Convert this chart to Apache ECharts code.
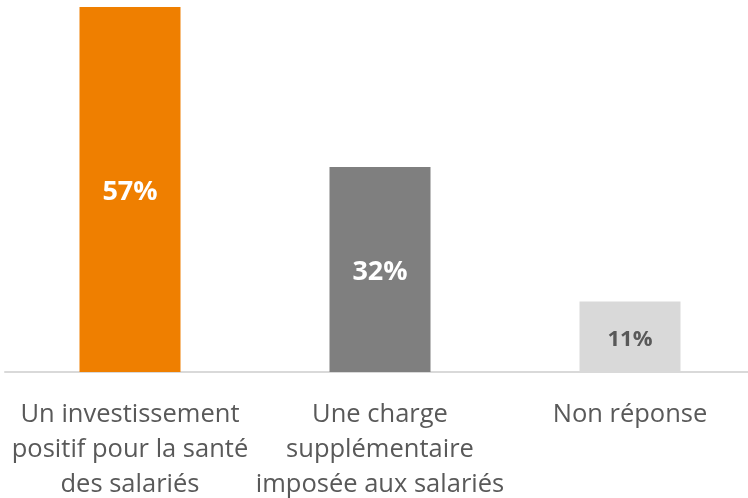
<!DOCTYPE html>
<html>
<head>
<meta charset="utf-8">
<script src="https://cdn.jsdelivr.net/npm/echarts@6/dist/echarts.min.js"></script>
<style>
  html, body { margin: 0; padding: 0; background: #fff; }
  #chart { width: 748px; height: 498px; }
</style>
</head>
<body>
<div id="chart"></div>
<script>
const categories = [
  'Un investissement\npositif pour la santé\ndes salariés',
  'Une charge\nsupplémentaire\nimposée aux salariés',
  'Non réponse'
];
const values = [57, 32, 11];
const barColors = ['#ef7f00', '#7f7f7f', '#d9d9d9'];
const labelColors = ['#ffffff', '#ffffff', '#595959'];
const labelSizes = [27, 27, 22];

const chart = echarts.init(document.getElementById('chart'));

const option = {
  backgroundColor: '#fff',
  animation: false,
  grid: {
    left: 5,
    width: 750,
    top: 7,
    bottom: 126,
    outerBoundsMode: 'none'
  },
  xAxis: {
    type: 'category',
    data: categories,
    axisLine: {
      lineStyle: { color: '#d9d9d9', width: 2 }
    },
    axisTick: { show: false },
    axisLabel: {
      color: '#595959',
      fontFamily: 'Open Sans',
      fontSize: 25.5,
      lineHeight: 35,
      margin: 25,
      interval: 0
    }
  },
  yAxis: {
    type: 'value',
    min: 0,
    max: 57,
    show: false
  },
  series: [
    {
      type: 'bar',
      barWidth: 101,
      data: values.map((v, i) => ({
        value: v,
        itemStyle: { color: barColors[i] },
        label: { color: labelColors[i], fontSize: labelSizes[i] }
      })),
      label: {
        show: true,
        position: 'inside',
        offset: [0, 3],
        fontFamily: 'Open Sans',
        fontWeight: 'bold',
        formatter: '{c}%'
      }
    }
  ]
};

chart.setOption(option);
</script>
</body>
</html>
